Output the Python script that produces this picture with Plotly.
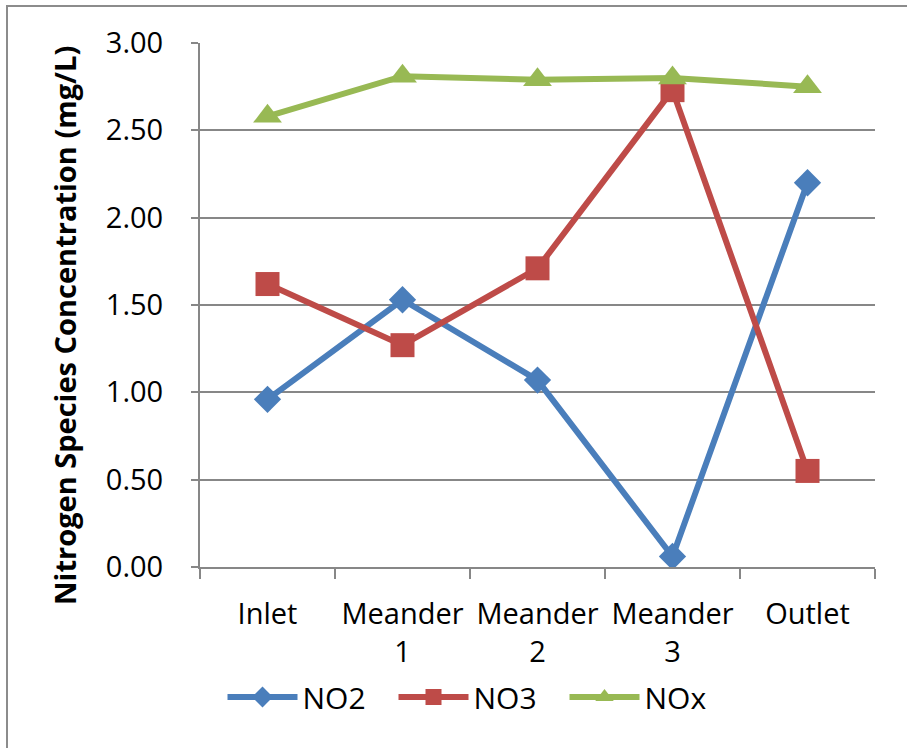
import plotly.graph_objects as go

# Sampling locations along the channel
sites = ["Inlet", "Meander<br>1", "Meander<br>2", "Meander<br>3", "Outlet"]

# Nitrogen species concentrations (mg/L)
no2 = [0.96, 1.53, 1.07, 0.06, 2.20]
no3 = [1.62, 1.27, 1.71, 2.73, 0.55]
nox = [2.58, 2.81, 2.79, 2.80, 2.75]

y_ticks = [0.0, 0.5, 1.0, 1.5, 2.0, 2.5, 3.0]

W, H = 907, 748
L, R, T, B = 200, 32, 43, 181
pw, ph = W - L - R, H - T - B


def px_x(x):
    return (x - L) / pw


def px_y(y):
    return (H - B - y) / ph


FONT = "'Open Sans', Lato, sans-serif"
GRID = "#878787"

fig = go.Figure()
fig.add_trace(go.Scatter(
    x=sites, y=no2, name="NO2", mode="lines+markers",
    line=dict(color="#4A7EBB", width=6),
    marker=dict(symbol="diamond", size=21, color="#4A7EBB"),
))
fig.add_trace(go.Scatter(
    x=sites, y=no3, name="NO3", mode="lines+markers",
    line=dict(color="#BE4B48", width=6),
    marker=dict(symbol="square", size=24, color="#BE4B48"),
))
fig.add_trace(go.Scatter(
    x=sites, y=nox, name="NOx", mode="lines+markers",
    line=dict(color="#98B954", width=6),
    marker=dict(symbol="triangle-up", size=25, color="#98B954"),
))

fig.update_layout(
    width=W, height=H,
    margin=dict(l=L, r=R, t=T, b=B),
    paper_bgcolor="white", plot_bgcolor="white",
    font=dict(family=FONT, size=29, color="black"),
    showlegend=True,
    legend=dict(
        orientation="h", x=px_x(479), xanchor="center",
        y=px_y(697), yanchor="middle",
        font=dict(size=30), bgcolor="rgba(0,0,0,0)",
        itemwidth=70, entrywidth=86, tracegroupgap=0,
    ),
    xaxis=dict(
        type="category", tickson="boundaries",
        ticks="outside", ticklen=10, tickcolor=GRID, tickwidth=2,
        showline=True, linecolor=GRID, linewidth=2,
        showgrid=False, ticklabelstandoff=20,
        tickfont=dict(size=29),
        range=[-0.5, 4.5],
    ),
    yaxis=dict(
        range=[0, 3.0], tickvals=y_ticks, tickformat=".2f",
        ticks="outside", ticklen=7, tickcolor=GRID, tickwidth=2,
        showline=True, linecolor=GRID, linewidth=2,
        showgrid=True, gridcolor=GRID, gridwidth=2,
        zeroline=False, ticklabelstandoff=22,
        tickfont=dict(size=29),
    ),
    annotations=[dict(
        text="<b>Nitrogen Species Concentration (mg/L)</b>",
        textangle=-90, xref="paper", yref="paper",
        x=px_x(64), y=px_y(326), xanchor="center", yanchor="middle",
        showarrow=False, font=dict(size=29, family=FONT),
    )],
    shapes=[dict(
        type="rect", xref="paper", yref="paper",
        x0=px_x(7), x1=px_x(930), y0=px_y(770), y1=px_y(6),
        line=dict(color="#8C8C8C", width=2), fillcolor="rgba(0,0,0,0)",
        layer="below",
    )],
)

fig.write_html("out.html")
